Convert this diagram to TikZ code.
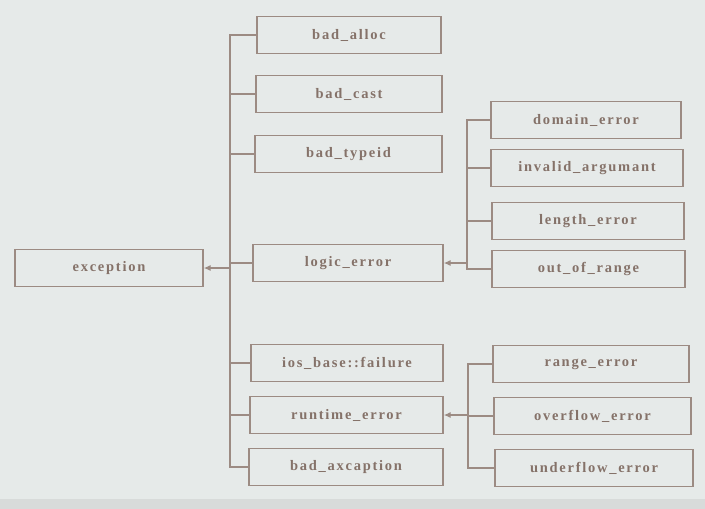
\documentclass[tikz,border=0pt]{standalone}
\usepackage{fontspec}
\setmainfont{Liberation Serif}
\newfontfamily\labfont[LetterSpace=12]{Liberation Serif}
\usetikzlibrary{arrows.meta}
\definecolor{bgc}{HTML}{E6EAE9}
\definecolor{bgb}{HTML}{D8DBDA}
\definecolor{linec}{HTML}{9C8B83}
\definecolor{textc}{HTML}{857269}
\tikzset{
  box/.style={draw=linec, line width=1.3pt, rectangle, minimum height=37pt, inner sep=0pt,
              text=textc, font=\labfont\bfseries\fontsize{14.5}{16}\selectfont},
  conn/.style={draw=linec, line width=1.3pt},
  arr/.style={conn, -{Latex[length=7pt,width=6pt]}}
}
\begin{document}
\begin{tikzpicture}[x=1pt,y=-1pt]
\fill[bgc] (0,0) rectangle (705,509);
\fill[bgb] (0,499) rectangle (705,509);
\useasboundingbox (0,0) rectangle (705,509);
% left
\node[box, minimum width=188pt] (exception) at (109,268) {exception};
% middle column
\node[box, minimum width=184pt] (bad_alloc) at (349,35) {bad\_alloc};
\node[box, minimum width=186pt] (bad_cast) at (349,94) {bad\_cast};
\node[box, minimum width=187pt] (bad_typeid) at (348.5,154) {bad\_typeid};
\node[box, minimum width=190pt] (logic_error) at (348,263) {logic\_error};
\node[box, minimum width=192pt] (ios_failure) at (347,363) {ios\_base::failure};
\node[box, minimum width=193pt] (runtime_error) at (346.5,415) {runtime\_error};
\node[box, minimum width=194pt] (bad_axcaption) at (346,467) {bad\_axcaption};
% logic errors
\node[box, minimum width=190pt] (domain_error) at (586,120) {domain\_error};
\node[box, minimum width=192pt] (invalid_argumant) at (587,168) {invalid\_argumant};
\node[box, minimum width=192pt] (length_error) at (588,221) {length\_error};
\node[box, minimum width=193pt] (out_of_range) at (588.5,269) {out\_of\_range};
% runtime errors
\node[box, minimum width=196pt] (range_error) at (591,364) {range\_error};
\node[box, minimum width=197pt] (overflow_error) at (592.5,416) {overflow\_error};
\node[box, minimum width=198pt] (underflow_error) at (594,468) {underflow\_error};
% trunk to exception
\coordinate (t1) at (230,0);
\draw[conn] (bad_alloc.west) -| (t1 |- bad_axcaption.west) -- (bad_axcaption.west);
\foreach \n in {bad_cast,bad_typeid,logic_error,ios_failure,runtime_error}
  \draw[conn] (\n.west) -- (t1 |- \n.west);
\draw[arr] (t1 |- exception.east) -- (exception.east);
% trunk to logic_error
\coordinate (t2) at (467,0);
\draw[conn] (domain_error.west) -| (t2 |- out_of_range.west) -- (out_of_range.west);
\foreach \n in {invalid_argumant,length_error}
  \draw[conn] (\n.west) -- (t2 |- \n.west);
\draw[arr] (t2 |- logic_error.east) -- (logic_error.east);
% trunk to runtime_error
\coordinate (t3) at (468,0);
\draw[conn] (range_error.west) -| (t3 |- underflow_error.west) -- (underflow_error.west);
\draw[conn] (overflow_error.west) -- (t3 |- overflow_error.west);
\draw[arr] (t3 |- runtime_error.east) -- (runtime_error.east);
\end{tikzpicture}
\end{document}
